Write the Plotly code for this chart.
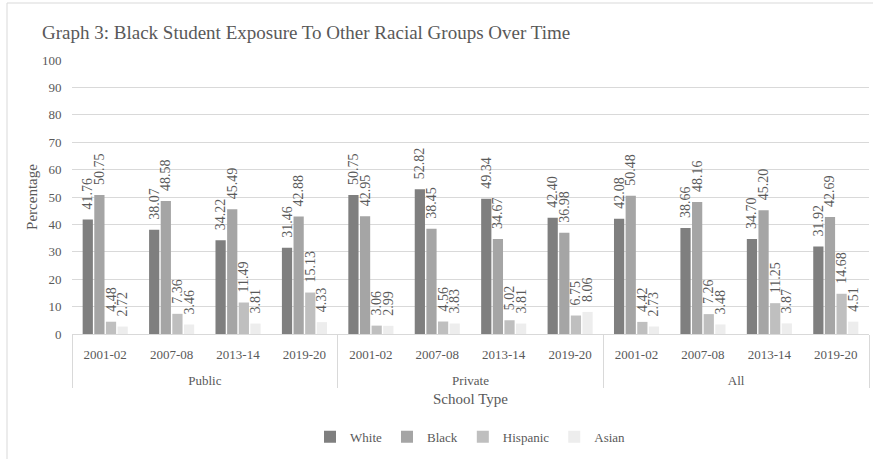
import plotly.graph_objects as go

school_types = ["Public"] * 4 + ["Private"] * 4 + ["All"] * 4
years = ["2001-02", "2007-08", "2013-14", "2019-20"] * 3

white = [41.76, 38.07, 34.22, 31.46, 50.75, 52.82, 49.34, 42.40, 42.08, 38.66, 34.70, 31.92]
black = [50.75, 48.58, 45.49, 42.88, 42.95, 38.45, 34.67, 36.98, 50.48, 48.16, 45.20, 42.69]
hispanic = [4.48, 7.36, 11.49, 15.13, 3.06, 4.56, 5.02, 6.75, 4.42, 7.26, 11.25, 14.68]
asian = [2.72, 3.46, 3.81, 4.33, 2.99, 3.83, 3.81, 8.06, 2.73, 3.48, 3.87, 4.51]

series = [("White", white, "#7f7f7f"), ("Black", black, "#a5a5a5"),
          ("Hispanic", hispanic, "#bfbfbf"), ("Asian", asian, "#ededed")]

FONT = "Times New Roman"
GREY = "#595959"

# outer-level labels pushed one line lower, as in the original's two-row axis
group_labels = ["<br>" + s for s in school_types]

fig = go.Figure()
for name, vals, color in series:
    fig.add_trace(go.Bar(
        name=name, x=[group_labels, years], y=vals,
        marker=dict(color=color, line=dict(width=0)),
        text=["\u00a0\u00a0" + f"{v:.2f}" for v in vals], textposition="outside",
        textangle=-90, constraintext="none", cliponaxis=False,
        textfont=dict(family=FONT, size=14, color=GREY),
    ))

fig.update_layout(
    width=873, height=459,
    margin=dict(l=72, r=4, t=60, b=125),
    paper_bgcolor="white", plot_bgcolor="white",
    barmode="group", bargap=0.3, bargroupgap=0.12,
    font=dict(family=FONT, color=GREY, size=13),
    title=dict(text="Graph 3: Black Student Exposure To Other Racial Groups Over Time",
               x=42 / 873, xanchor="left", y=1 - 32 / 459, yanchor="middle",
               font=dict(family=FONT, size=19, color=GREY)),
    showlegend=True,
    legend=dict(orientation="h", x=0.5, xanchor="center", y=-0.375, yanchor="middle",
                font=dict(family=FONT, size=13, color=GREY), traceorder="normal",
                itemwidth=30),
    xaxis=dict(type="multicategory", showline=True, linecolor="#d9d9d9",
               showdividers=True, dividercolor="#d9d9d9", dividerwidth=1,
               ticklabelstandoff=8,
               tickfont=dict(family=FONT, size=13, color=GREY),
               title=dict(text="School Type", font=dict(family=FONT, size=15, color=GREY),
                          standoff=6)),
    yaxis=dict(range=[0, 100], dtick=10, showgrid=True, gridcolor="#d9d9d9",
               zeroline=False, showline=False,
               ticks="outside", ticklen=7, tickcolor="rgba(0,0,0,0)",
               tickfont=dict(family=FONT, size=13, color=GREY),
               title=dict(text="Percentage", font=dict(family=FONT, size=15, color=GREY),
                          standoff=0)),
    shapes=[
        dict(type="line", xref="paper", yref="paper",
             x0=-65 / 797, x1=1.01, y0=1 + 57 / 274, y1=1 + 57 / 274,
             line=dict(color="#d9d9d9", width=1)),
        dict(type="line", xref="paper", yref="paper",
             x0=-65 / 797, x1=-65 / 797, y0=1 + 57 / 274, y1=-125 / 274,
             line=dict(color="#d9d9d9", width=1)),
    ],
)

fig.write_html("out.html")
